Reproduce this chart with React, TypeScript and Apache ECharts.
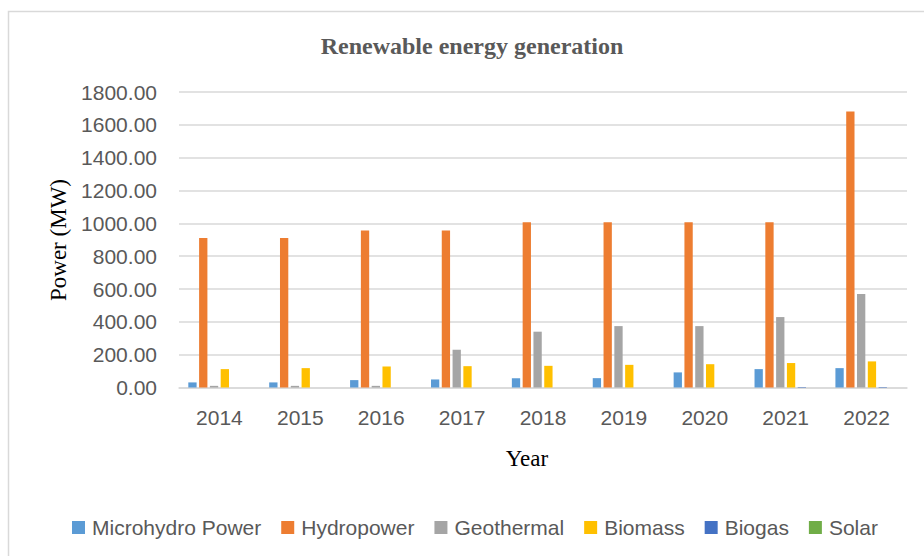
import React, { useEffect, useRef } from "react";
import * as echarts from "echarts";

const years = ["2014", "2015", "2016", "2017", "2018", "2019", "2020", "2021", "2022"];
const microhydro = [31, 31, 45, 49, 57, 57, 92, 112, 118];
const hydropower = [910, 910, 957, 957, 1007, 1007, 1007, 1007, 1681];
const geothermal = [10, 10, 10, 230, 340, 374, 374, 429, 570];
const biomass = [112, 118, 128, 130, 132, 138, 142, 149, 159];
const biogas = [0, 0, 0, 0, 0, 0, 0, 3, 3];
const solar = [0, 0, 0, 0, 0, 0, 0, 0, 0];

const seriesNames = ["Microhydro Power", "Hydropower", "Geothermal", "Biomass", "Biogas", "Solar"];
const seriesColors = ["#5B9BD5", "#ED7D31", "#A5A5A5", "#FFC000", "#4472C4", "#70AD47"];
const seriesData = [microhydro, hydropower, geothermal, biomass, biogas, solar];

const SANS = "'Liberation Sans', Arial, sans-serif";
const SERIF = "'Liberation Serif', 'Times New Roman', serif";

export default function App() {
  const ref = useRef<HTMLDivElement>(null);
  useEffect(() => {
    if (!ref.current) return;
    const chart = echarts.init(ref.current, undefined, { renderer: "svg" });
    chart.setOption({
      animation: false,
      backgroundColor: "#ffffff",
      color: seriesColors,
      grid: { left: 179, top: 92, width: 728, height: 295.5, containLabel: false },
      graphic: [
        {
          type: "rect",
          shape: { x: 8.5, y: 11.5, width: 1000, height: 1000 },
          style: { fill: "none", stroke: "#D9D9D9", lineWidth: 1.5 },
          silent: true,
        },
        {
          type: "text",
          x: 472,
          y: 46,
          style: {
            text: "Renewable energy generation",
            font: `bold 24px ${SERIF}`,
            fill: "#595959",
            textAlign: "center",
            textVerticalAlign: "middle",
          },
        },
        {
          type: "text",
          x: 527,
          y: 458,
          style: {
            text: "Year",
            font: `23px ${SERIF}`,
            fill: "#000000",
            textAlign: "center",
            textVerticalAlign: "middle",
          },
        },
        {
          type: "text",
          x: 58,
          y: 240,
          rotation: Math.PI / 2,
          style: {
            text: "Power (MW)",
            font: `23px ${SERIF}`,
            fill: "#000000",
            textAlign: "center",
            textVerticalAlign: "middle",
          },
        },
      ],
      legend: {
        left: 72,
        top: 517,
        padding: 0,
        itemWidth: 13,
        itemHeight: 13,
        itemGap: 20,
        icon: "rect",
        data: seriesNames,
        textStyle: { fontFamily: SANS, fontSize: 21, color: "#595959", padding: [0, 0, 0, 2] },
      },
      xAxis: {
        type: "category",
        data: years,
        axisTick: { show: false },
        axisLine: { lineStyle: { color: "#D9D9D9", width: 1.5 } },
        axisLabel: { fontFamily: SANS, fontSize: 21, color: "#595959", margin: 19 },
      },
      yAxis: {
        type: "value",
        min: 0,
        max: 1800,
        interval: 200,
        axisLine: { show: false },
        axisTick: { show: false },
        splitLine: { lineStyle: { color: "#D9D9D9", width: 1.5 } },
        axisLabel: {
          fontFamily: SANS,
          fontSize: 21,
          color: "#595959",
          margin: 22,
          formatter: (v: number) => v.toFixed(2),
        },
      },
      series: seriesNames.map((name, i) => ({
        name,
        type: "bar",
        data: seriesData[i],
        barGap: "30%",
        barCategoryGap: "23%",
        itemStyle: { color: seriesColors[i] },
      })),
    });
    return () => chart.dispose();
  }, []);
  return (
    <div
      ref={ref}
      style={{ position: "fixed", left: 0, top: 0, width: 924, height: 556 }}
    />
  );
}
